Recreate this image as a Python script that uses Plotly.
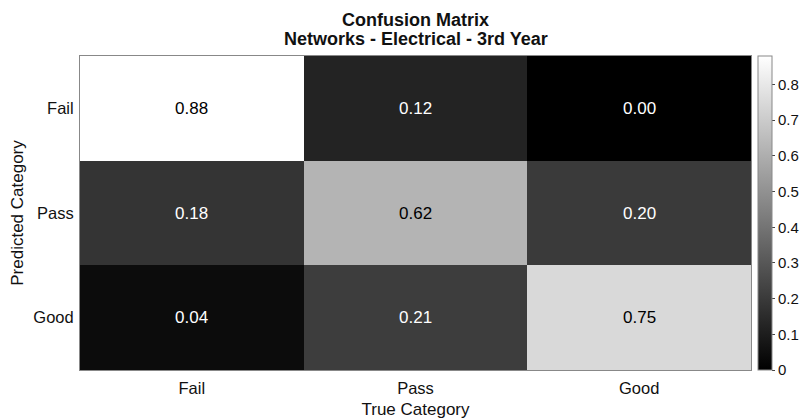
import plotly.graph_objects as go

true_categories = ["Fail", "Pass", "Good"]
predicted_categories = ["Fail", "Pass", "Good"]
# rows = predicted, cols = true
values = [
    [0.88, 0.12, 0.00],
    [0.18, 0.62, 0.20],
    [0.04, 0.21, 0.75],
]
colorbar_ticks = [0, 0.1, 0.2, 0.3, 0.4, 0.5, 0.6, 0.7, 0.8]
title_lines = ["Confusion Matrix", "Networks - Electrical - 3rd Year"]

FONT = "Liberation Sans, Arial, Helvetica, sans-serif"

W, H = 802, 419
ML, MR, MT, MB = 80, 51, 56, 49
PLOT_H = H - MT - MB

fig = go.Figure()
fig.add_trace(go.Heatmap(
    z=values,
    x=true_categories,
    y=predicted_categories,
    colorscale=[[0, "rgb(0,0,0)"], [1, "rgb(255,255,255)"]],
    zmin=0, zmax=0.88,
    showscale=True,
    colorbar=dict(
        x=1.0104, xanchor="left", xref="paper", xpad=0, ypad=0,
        y=0, yanchor="bottom", len=1, lenmode="fraction",
        thickness=14,
        outlinewidth=1, outlinecolor="#888888",
        tickvals=colorbar_ticks,
        ticktext=[("%g" % t) for t in colorbar_ticks],
        ticks="outside", ticklen=3, tickcolor="#444444",
        tickfont=dict(family=FONT, size=15, color="#111111"),
    ),
    hoverinfo="skip",
))

annotations = []
for i, row in enumerate(values):
    for j, v in enumerate(row):
        annotations.append(dict(
            x=true_categories[j], y=predicted_categories[i],
            text="%.2f" % v, showarrow=False,
            font=dict(family=FONT, size=17, color="black" if v > 0.5 else "white"),
        ))

# title lines (placed in paper coords above the plot); pixel y from figure top
for line, ypx in zip(title_lines, [20, 39]):
    annotations.append(dict(
        x=0.5, xref="paper", xanchor="center",
        y=(MT + PLOT_H - ypx) / PLOT_H, yref="paper", yanchor="middle",
        text="<b>%s</b>" % line, showarrow=False,
        font=dict(family=FONT, size=18, color="#111111"),
    ))

fig.update_layout(
    width=W, height=H,
    margin=dict(l=ML, r=MR, t=MT, b=MB, autoexpand=False),
    paper_bgcolor="white", plot_bgcolor="white",
    annotations=annotations,
    xaxis=dict(
        title=dict(text="True Category", font=dict(family=FONT, size=17, color="#111111"), standoff=7),
        tickfont=dict(family=FONT, size=16.5, color="#111111"),
        showline=True, linecolor="#888888", linewidth=1, mirror=True,
        ticks="", showgrid=False, zeroline=False, ticklabelstandoff=3,
    ),
    yaxis=dict(
        title=dict(text="Predicted Category", font=dict(family=FONT, size=17, color="#111111"), standoff=5),
        tickfont=dict(family=FONT, size=16.5, color="#111111"),
        autorange="reversed",
        showline=True, linecolor="#888888", linewidth=1, mirror=True,
        ticks="", showgrid=False, zeroline=False, ticklabelstandoff=2,
    ),
)

fig.write_html(
    "out.html",
    config={"displayModeBar": False},
    post_script="document.body.style.margin='0';document.body.style.overflow='hidden';",
)
